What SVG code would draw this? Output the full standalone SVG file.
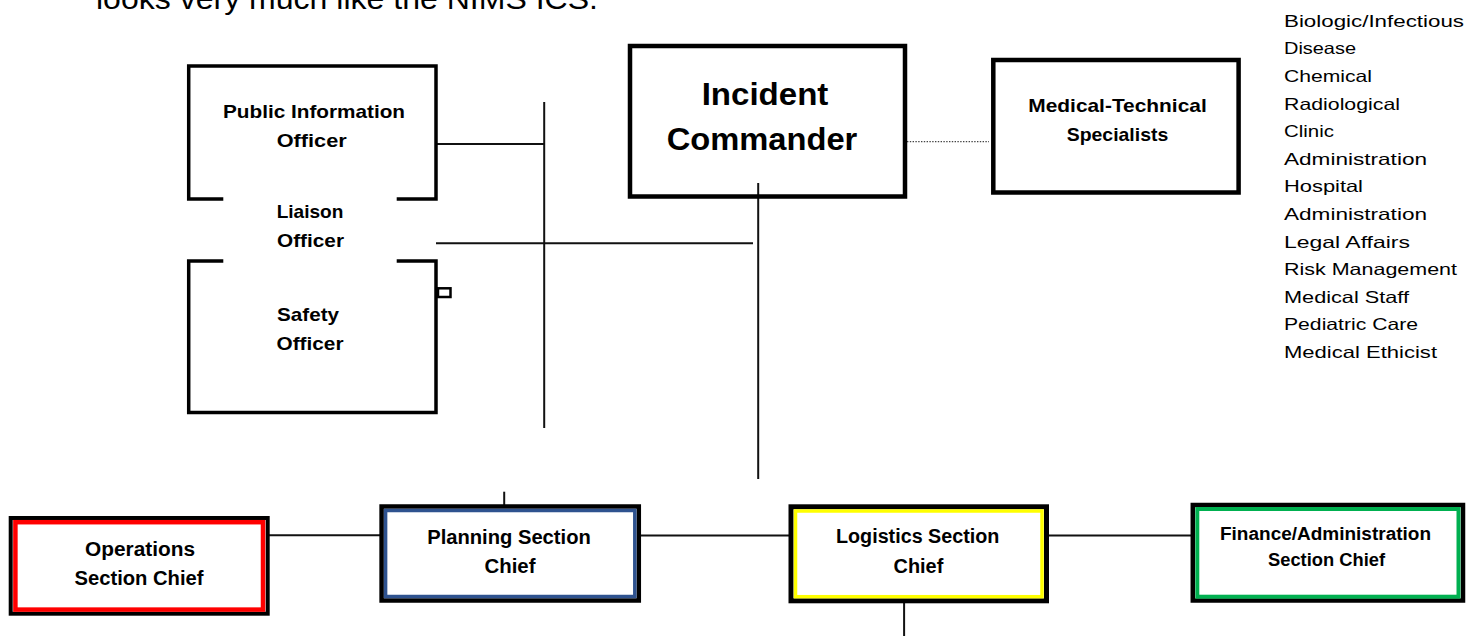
<svg xmlns="http://www.w3.org/2000/svg" width="1482" height="636" viewBox="0 0 1482 636">
<style>
.b{font-family:"Liberation Sans",Arial,sans-serif;font-weight:bold;fill:#000;text-anchor:middle}
.r{font-family:"Liberation Sans",Arial,sans-serif;fill:#000;font-size:16.5px}
.box{fill:none;stroke:#000}
.ln{stroke:#111;stroke-width:2;fill:none}
</style>
<rect width="1482" height="636" fill="#fff"/>
<text x="96" y="9" font-family="'Liberation Sans',Arial,sans-serif" font-size="29" textLength="502" lengthAdjust="spacingAndGlyphs">looks very much like the NIMS ICS.</text>

<g id="connectors">
<line class="ln" x1="436" y1="144" x2="544.2" y2="144"/>
<line class="ln" x1="544.2" y1="102" x2="544.2" y2="428"/>
<line class="ln" x1="436" y1="243.3" x2="753" y2="243.3"/>
<line class="ln" x1="758.2" y1="183" x2="758.2" y2="479"/>
<line x1="907" y1="141.7" x2="989" y2="141.7" stroke="#444" stroke-width="1.3" stroke-dasharray="1.4 1.4"/>
<line class="ln" x1="504.2" y1="491.7" x2="504.2" y2="505"/>
<line class="ln" x1="269" y1="535.3" x2="380" y2="535.3"/>
<line class="ln" x1="640" y1="535.5" x2="789" y2="535.5"/>
<line class="ln" x1="1048" y1="535.5" x2="1191" y2="535.5"/>
<line class="ln" x1="904.1" y1="603" x2="904.1" y2="636"/>
</g>

<g id="pio">
<path class="box" stroke-width="3.5" d="M223.3,199 H188.7 V66 H436 V199 H396.7"/>
<text class="b" x="314" y="117.7" font-size="18.5" textLength="182" lengthAdjust="spacingAndGlyphs">Public Information</text>
<text class="b" x="311.7" y="147.3" font-size="18.5" textLength="70" lengthAdjust="spacingAndGlyphs">Officer</text>
</g>

<g id="liaison">
<text class="b" x="310" y="218.3" font-size="18.5" textLength="66.7" lengthAdjust="spacingAndGlyphs">Liaison</text>
<text class="b" x="310.5" y="246.7" font-size="18.5" textLength="67" lengthAdjust="spacingAndGlyphs">Officer</text>
</g>

<g id="safety">
<path class="box" stroke-width="3.5" d="M223.3,261 H188.7 V412.5 H436 V261 H396.7"/>
<rect x="438" y="288.3" width="12.5" height="8.7" fill="#fff" stroke="#000" stroke-width="2.5"/>
<text class="b" x="308" y="320.7" font-size="18.5" textLength="62" lengthAdjust="spacingAndGlyphs">Safety</text>
<text class="b" x="310" y="350" font-size="18.5" textLength="67" lengthAdjust="spacingAndGlyphs">Officer</text>
</g>

<g id="ic">
<rect class="box" x="630" y="46" width="275" height="150.5" stroke-width="4.5"/>
<text class="b" x="765" y="105" font-size="32" textLength="126.7" lengthAdjust="spacingAndGlyphs">Incident</text>
<text class="b" x="762" y="150" font-size="32" textLength="190.7" lengthAdjust="spacingAndGlyphs">Commander</text>
</g>

<g id="mts">
<rect class="box" x="993.3" y="60" width="245.3" height="132.5" stroke-width="4.5"/>
<text class="b" x="1117.5" y="111.7" font-size="18.5" textLength="178.4" lengthAdjust="spacingAndGlyphs">Medical-Technical</text>
<text class="b" x="1117.5" y="141" font-size="18.5" textLength="101.6" lengthAdjust="spacingAndGlyphs">Specialists</text>
</g>

<g id="specialties">
<text class="r" x="1284" y="26.7" textLength="180" lengthAdjust="spacingAndGlyphs">Biologic/Infectious</text>
<text class="r" x="1284" y="54.3" textLength="72" lengthAdjust="spacingAndGlyphs">Disease</text>
<text class="r" x="1284" y="81.9" textLength="88" lengthAdjust="spacingAndGlyphs">Chemical</text>
<text class="r" x="1284" y="109.5" textLength="116" lengthAdjust="spacingAndGlyphs">Radiological</text>
<text class="r" x="1284" y="137.1" textLength="50" lengthAdjust="spacingAndGlyphs">Clinic</text>
<text class="r" x="1284" y="164.7" textLength="143" lengthAdjust="spacingAndGlyphs">Administration</text>
<text class="r" x="1284" y="192.3" textLength="79" lengthAdjust="spacingAndGlyphs">Hospital</text>
<text class="r" x="1284" y="219.9" textLength="143" lengthAdjust="spacingAndGlyphs">Administration</text>
<text class="r" x="1284" y="247.5" textLength="126" lengthAdjust="spacingAndGlyphs">Legal Affairs</text>
<text class="r" x="1284" y="275.1" textLength="173" lengthAdjust="spacingAndGlyphs">Risk Management</text>
<text class="r" x="1284" y="302.7" textLength="125" lengthAdjust="spacingAndGlyphs">Medical Staff</text>
<text class="r" x="1284" y="330.3" textLength="134" lengthAdjust="spacingAndGlyphs">Pediatric Care</text>
<text class="r" x="1284" y="357.9" textLength="153" lengthAdjust="spacingAndGlyphs">Medical Ethicist</text>
</g>

<g id="operations">
<rect class="box" x="10.7" y="518" width="257" height="95.7" stroke-width="4"/>
<rect x="15.4" y="522.2" width="247.6" height="87.4" fill="none" stroke="#ff0000" stroke-width="4.5"/>
<text class="b" x="140" y="556" font-size="20" textLength="110" lengthAdjust="spacingAndGlyphs">Operations</text>
<text class="b" x="139" y="585" font-size="20" textLength="129" lengthAdjust="spacingAndGlyphs">Section Chief</text>
</g>

<g id="planning">
<rect class="box" x="381.6" y="506.5" width="257.2" height="94" stroke-width="4.5"/>
<rect x="385.6" y="510.5" width="249.2" height="86" fill="none" stroke="#2e528f" stroke-width="3.5"/>
<text class="b" x="509" y="544" font-size="19.5" textLength="163.6" lengthAdjust="spacingAndGlyphs">Planning Section</text>
<text class="b" x="510" y="573" font-size="19.5" textLength="51" lengthAdjust="spacingAndGlyphs">Chief</text>
</g>

<g id="logistics">
<rect class="box" x="791" y="506.8" width="255.5" height="94" stroke-width="5"/>
<rect x="795.5" y="511" width="246.5" height="85.7" fill="none" stroke="#ffff00" stroke-width="3.5"/>
<text class="b" x="917.7" y="543" font-size="20" textLength="163.4" lengthAdjust="spacingAndGlyphs">Logistics Section</text>
<text class="b" x="918.4" y="573" font-size="20" textLength="49.7" lengthAdjust="spacingAndGlyphs">Chief</text>
</g>

<g id="finance">
<rect class="box" x="1192.8" y="505" width="270.2" height="95.5" stroke-width="4.5"/>
<rect x="1197.3" y="509" width="261.2" height="87.7" fill="none" stroke="#00b050" stroke-width="4"/>
<text class="b" x="1325.5" y="540" font-size="18" textLength="211" lengthAdjust="spacingAndGlyphs">Finance/Administration</text>
<text class="b" x="1326.5" y="566" font-size="18" textLength="117" lengthAdjust="spacingAndGlyphs">Section Chief</text>
</g>
</svg>
